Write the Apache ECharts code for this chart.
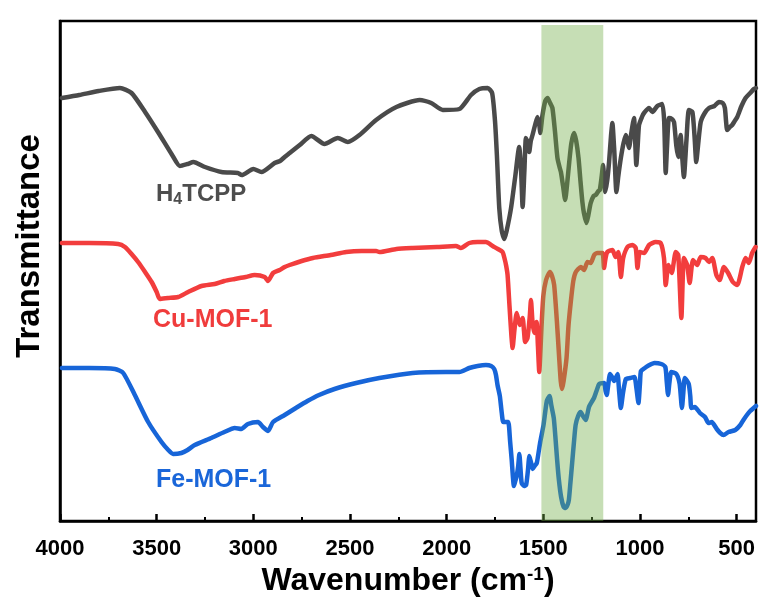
<!DOCTYPE html>
<html>
<head>
<meta charset="utf-8">
<script src="https://cdn.jsdelivr.net/npm/echarts@6/dist/echarts.min.js"></script>
<style>
html,body{margin:0;padding:0;background:#fff;}
#chart{width:762px;height:607px;}
</style>
</head>
<body>
<div id="chart"></div>
<script>
// Wavenumber ticks
const majorTicks = [4000, 3500, 3000, 2500, 2000, 1500, 1000, 500];
const minorTicks = [3750, 3250, 2750, 2250, 1750, 1250, 750];
const highlightBand = [1510, 1190];
const seriesNames = ['H4TCPP', 'Cu-MOF-1', 'Fe-MOF-1'];

// [wavenumber (cm-1), transmittance (offset, a.u.)]
const h4tcpp = [[3990,423],[3900,426],[3800,430],[3690,433],[3630,428],[3560,409],[3490,388],[3420,366],[3380,355],[3340,357],[3310,359],[3250,354],[3165,349],[3080,348],[3060,346],[3000,352],[2958,349],[2890,358],[2862,360],[2838,364],[2812,368],[2760,376],[2700,385],[2632,377],[2563,383],[2511,379],[2451,386],[2365,401],[2260,414],[2140,421],[2080,418],[2020,411],[1934,412],[1874,426],[1831,432],[1788,433],[1765,428],[1750,400],[1740,365],[1728,313],[1715,290],[1702,282],[1690,290],[1667,313],[1645,345],[1625,374],[1615,350],[1607,314],[1598,350],[1590,383],[1580,378],[1573,369],[1565,380],[1556,386],[1540,398],[1530,404],[1520,395],[1516,388],[1505,405],[1490,420],[1478,423],[1465,418],[1453,413],[1440,390],[1427,363],[1415,353],[1409,349],[1398,335],[1387,321],[1378,335],[1366,359],[1355,378],[1341,388],[1330,380],[1318,363],[1308,340],[1298,319],[1290,308],[1277,298],[1268,305],[1255,318],[1240,325],[1229,326],[1215,330],[1208,331],[1198,345],[1191,356],[1185,340],[1180,329],[1170,340],[1160,359],[1150,385],[1143,398],[1133,370],[1122,329],[1112,345],[1099,363],[1085,378],[1073,386],[1065,380],[1057,373],[1045,388],[1031,403],[1025,380],[1019,356],[1012,375],[1005,396],[990,404],[979,408],[953,413],[936,409],[910,415],[885,417],[875,400],[867,348],[860,375],[850,403],[835,402],[824,399],[812,375],[802,364],[796,375],[790,386],[782,365],[773,344],[760,380],[747,411],[729,409],[718,385],[709,359],[700,375],[686,399],[665,408],[643,413],[615,415],[592,419],[572,418],[561,413],[555,400],[549,391],[535,394],[523,396],[510,400],[497,404],[475,415],[454,423],[430,428],[411,432],[400,433]];

const cuMof1 = [[3990,278],[3850,278],[3699,277],[3664,274],[3630,267],[3596,259],[3560,249],[3526,239],[3500,229],[3484,222],[3441,223],[3389,224],[3337,229],[3268,235],[3200,237],[3150,240],[3096,242],[3040,244],[2993,246],[2941,244],[2924,240],[2898,248],[2864,251],[2838,254],[2812,256],[2750,260],[2692,263],[2600,266],[2520,269],[2440,270],[2365,270],[2348,269],[2260,272],[2176,273],[2050,274],[1952,275],[1926,273],[1883,278],[1840,279],[1797,279],[1762,275],[1735,272],[1711,269],[1700,262],[1692,255],[1685,246],[1675,215],[1665,185],[1659,173],[1650,190],[1638,208],[1630,202],[1621,196],[1607,203],[1600,190],[1594,179],[1582,183],[1570,205],[1564,221],[1556,199],[1547,188],[1535,199],[1528,175],[1521,149],[1515,170],[1509,196],[1500,225],[1486,241],[1466,249],[1455,245],[1444,236],[1430,200],[1418,163],[1410,140],[1403,132],[1395,140],[1380,163],[1370,195],[1358,219],[1345,240],[1332,249],[1306,254],[1289,251],[1272,259],[1255,258],[1237,266],[1220,268],[1194,268],[1186,253],[1178,263],[1169,269],[1143,271],[1126,264],[1112,269],[1099,244],[1087,263],[1065,274],[1039,276],[1022,273],[1013,253],[1001,269],[979,268],[953,276],[919,279],[893,278],[876,263],[867,236],[853,256],[836,248],[815,269],[802,266],[786,203],[773,263],[756,256],[743,238],[726,261],[704,256],[686,264],[661,263],[643,259],[626,263],[605,246],[588,241],[566,254],[544,248],[520,239],[497,236],[471,254],[454,263],[437,258],[420,268],[402,274]];

const feMof1 = [[3990,153],[3850,153],[3716,152],[3673,148],[3613,126],[3544,99],[3475,79],[3440,71],[3415,67],[3372,68],[3340,71],[3303,76],[3217,83],[3150,89],[3096,93],[3062,92],[3028,97],[2976,99],[2950,94],[2924,90],[2898,99],[2838,106],[2780,113],[2720,120],[2660,126],[2580,132],[2468,138],[2348,143],[2176,148],[2003,149],[1934,149],[1883,153],[1840,155],[1797,156],[1770,155],[1754,152],[1745,146],[1737,136],[1725,125],[1715,108],[1707,99],[1690,99],[1681,99],[1672,80],[1664,62],[1652,35],[1645,40],[1638,45],[1630,55],[1624,67],[1618,52],[1612,38],[1600,35],[1589,36],[1580,50],[1572,65],[1563,58],[1555,52],[1545,55],[1534,58],[1525,68],[1516,79],[1499,96],[1482,120],[1468,125],[1458,115],[1446,103],[1438,85],[1429,62],[1420,42],[1408,24],[1395,14],[1385,13],[1375,16],[1368,21],[1360,38],[1351,58],[1342,78],[1333,96],[1320,105],[1307,109],[1295,105],[1281,101],[1264,114],[1250,119],[1238,123],[1225,130],[1211,137],[1186,138],[1178,130],[1172,126],[1165,135],[1155,147],[1145,144],[1134,140],[1125,143],[1116,147],[1108,130],[1099,113],[1088,128],[1073,142],[1050,143],[1029,144],[1018,132],[1008,118],[1000,138],[995,150],[975,153],[960,155],[925,158],[890,157],[869,154],[862,140],[855,126],[848,138],[838,149],[812,147],[795,137],[783,113],[776,128],[768,143],[748,137],[740,125],[734,113],[716,114],[690,108],[664,104],[646,98],[629,99],[603,92],[585,88],[568,86],[542,89],[507,91],[481,96],[465,101],[447,106],[430,110],[412,113],[400,115]];

const colors = ['#4a4a4a', '#f23d3d', '#1765d8'];
const FONT = '"Liberation Sans", Arial, sans-serif';

const chart = echarts.init(document.getElementById('chart'), null, {renderer: 'canvas'});

function lineSeries(name, data, color) {
  return {
    name: name, type: 'line', data: data, xAxisIndex: 0, yAxisIndex: 0,
    showSymbol: false, symbol: 'none', smooth: 0.2, z: 2,
    lineStyle: {color: color, width: 4.5, join: 'round', cap: 'round'}
  };
}

const option = {
  backgroundColor: '#fff',
  animation: false,
  grid: {left: 60, right: 6, top: 21, bottom: 86, show: true, borderColor: '#000', borderWidth: 2.5, backgroundColor: 'transparent'},
  xAxis: [{
    type: 'value', min: 400, max: 4000, inverse: true,
    name: '{a|Wavenumber (cm}{s|-1}{a|)}', nameLocation: 'middle', nameGap: 42,
    nameTextStyle: {rich: {
      a: {fontSize: 32, fontWeight: 'bold', fontFamily: FONT, color: '#000'},
      s: {fontSize: 19, fontWeight: 'bold', fontFamily: FONT, color: '#000', padding: [0, 0, 14, 0]}
    }},
    axisLine: {show: true, lineStyle: {color: '#000', width: 2.5}},
    axisTick: {show: true, inside: true, length: 7, lineStyle: {color: '#000', width: 2.5}, customValues: majorTicks},
    axisLabel: {show: true, customValues: majorTicks, formatter: function (v) { return String(v); }, fontSize: 22, fontWeight: 'bold', fontFamily: FONT, color: '#000', margin: 17},
    splitLine: {show: false}
  }, {
    type: 'value', min: 400, max: 4000, inverse: true, gridIndex: 0, position: 'bottom',
    axisLine: {show: false},
    axisTick: {show: true, inside: true, length: 4, lineStyle: {color: '#000', width: 2}, customValues: minorTicks},
    axisLabel: {show: false},
    splitLine: {show: false}
  }],
  yAxis: {
    type: 'value', min: 0, max: 500,
    name: 'Transmittance', nameLocation: 'middle', nameGap: 14,
    nameTextStyle: {fontSize: 33, fontWeight: 'bold', fontFamily: FONT, color: '#000', padding: [0, 0, 0, 50]},
    axisLine: {show: true, lineStyle: {color: '#000', width: 2.5}},
    axisTick: {show: false}, axisLabel: {show: false}, splitLine: {show: false}
  },
  series: [
    lineSeries(seriesNames[0], h4tcpp, colors[0]),
    lineSeries(seriesNames[1], cuMof1, colors[1]),
    lineSeries(seriesNames[2], feMof1, colors[2]),
    {
      name: 'band', type: 'line', data: [], z: 10, xAxisIndex: 0, yAxisIndex: 0,
      markArea: {
        silent: true, z: 10,
        itemStyle: {color: 'rgba(112,173,71,0.4)'},
        data: [[{xAxis: highlightBand[0], yAxis: 0}, {xAxis: highlightBand[1], yAxis: 496}]]
      }
    }
  ],
  graphic: [
    {type: 'text', left: 156, top: 182, z: 20, style: {
      text: '{a|H}{s|4}{a|TCPP}',
      rich: {
        a: {fontSize: 24, fontWeight: 'bold', fontFamily: FONT, fill: '#4d4d4d'},
        s: {fontSize: 16, fontWeight: 'bold', fontFamily: FONT, fill: '#4d4d4d', padding: [12, 0, 0, 0]}
      }}},
    {type: 'text', left: 153, top: 308, z: 20, style: {text: 'Cu-MOF-1', fontSize: 25, fontWeight: 'bold', fontFamily: FONT, fill: '#f03c3c'}},
    {type: 'text', left: 156, top: 468, z: 20, style: {text: 'Fe-MOF-1', fontSize: 25, fontWeight: 'bold', fontFamily: FONT, fill: '#1a66d9'}}
  ]
};
chart.setOption(option);
</script>
</body>
</html>
